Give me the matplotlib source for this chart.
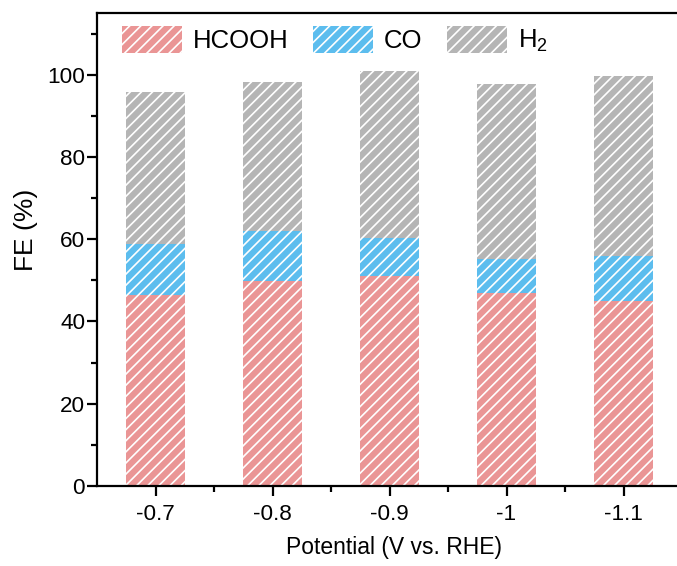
import matplotlib
matplotlib.use("Agg")
import matplotlib.pyplot as plt
import numpy as np
from matplotlib.ticker import MultipleLocator

# data
potentials = ['-0.7', '-0.8', '-0.9', '-1', '-1.1']
hcooh = [46.5, 49.9, 51.1, 46.9, 45.1]
co = [12.4, 12.0, 9.3, 8.3, 10.7]
h2 = [37.0, 36.3, 40.4, 42.5, 44.0]

series_names = ['HCOOH', 'CO', 'H$_2$']
series_colors = ['#ea9595', '#5cbdee', '#b5b5b5']

plt.rcParams['font.family'] = ['Liberation Sans', 'DejaVu Sans']
plt.rcParams['mathtext.default'] = 'regular'
plt.rcParams['hatch.color'] = 'white'
plt.rcParams['hatch.linewidth'] = 1.2


def main():
    fig = plt.figure(figsize=(6.77, 5.66), dpi=100)
    # right edge of the axes runs past the picture, like the cropped original
    ax = fig.add_axes([97 / 677, 80 / 566, 585 / 677, 473 / 566])

    x = np.arange(len(potentials))
    bottom = np.zeros(len(potentials))
    for vals, name, col in zip([hcooh, co, h2], series_names, series_colors):
        ax.bar(x, vals, width=0.5, bottom=bottom, color=col, edgecolor='white',
               linewidth=0, hatch='///', label=name)
        bottom += np.array(vals)

    ax.set_xlim(-0.5, 4.5)
    ax.set_ylim(0, 115)
    ax.set_xticks(x)
    ax.set_xticklabels(potentials)
    ax.set_yticks([0, 20, 40, 60, 80, 100])
    ax.yaxis.set_minor_locator(MultipleLocator(10))
    ax.set_xticks(x[:-1] + 0.5, minor=True)

    for s in ax.spines.values():
        s.set_linewidth(1.6)
    ax.tick_params(which='major', length=7, width=1.6, labelsize=16.2, pad=1.5)
    ax.tick_params(which='minor', length=4, width=1.6)
    ax.tick_params(axis='x', which='major', pad=6)

    ax.set_xlabel('Potential (V vs. RHE)', fontsize=16.5, labelpad=8)
    ax.xaxis.set_label_coords(0.5085, -0.105)
    ax.set_ylabel('FE (%)', fontsize=19)
    ax.yaxis.set_label_coords(-0.101, 0.542)

    ax.legend(loc='upper left', bbox_to_anchor=(0.0427, 0.973), ncol=3, frameon=False,
              fontsize=18.5, handlelength=2.33, handleheight=1.25,
              handletextpad=0.43, columnspacing=0.95, borderaxespad=0, borderpad=0)

    fig.savefig('out.png', dpi=100)


if __name__ == "__main__":
    main()
